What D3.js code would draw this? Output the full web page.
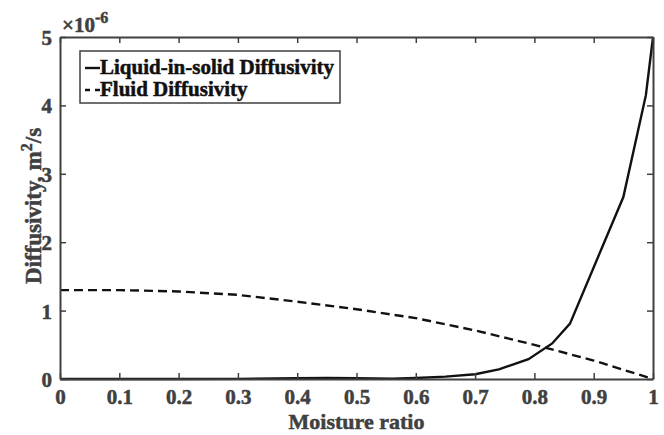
<!DOCTYPE html>
<html lang="en">
<head>
    <meta charset="UTF-8">
    <title>Diffusivity vs moisture ratio</title>
    <script src="https://d3js.org/d3.v7.min.js"></script>
    <style>
        body, html {
            margin: 0;
            background-color: #ffffff;
            overflow: hidden;
        }
        svg text {
            font-family: 'Liberation Serif', 'Times New Roman', serif;
            font-weight: 700;
            stroke-width: 0.5px;
        }
    </style>
</head>
<body>
<svg id="chart" width="664" height="435"></svg>

<script>
    // data (in units of 1e-6 m^2/s)
    const solidX = [0, 0.1, 0.2, 0.3, 0.4, 0.45, 0.5, 0.56, 0.6, 0.65, 0.7, 0.74, 0.79, 0.83, 0.86, 0.95, 0.988, 1];
    const solidY = [0, 0, 0, 0.002, 0.01, 0.015, 0.012, 0.005, 0.015, 0.035, 0.07, 0.14, 0.29, 0.52, 0.81, 2.66, 4.15, 5.0];
    const fluidX = [0, 0.1, 0.2, 0.3, 0.4, 0.5, 0.6, 0.7, 0.8, 0.9, 1];
    const fluidY = [1.30, 1.30, 1.28, 1.23, 1.13, 1.02, 0.89, 0.71, 0.50, 0.27, 0];
    const xTicks = [0, 0.1, 0.2, 0.3, 0.4, 0.5, 0.6, 0.7, 0.8, 0.9, 1];
    const yTicks = [0, 1, 2, 3, 4, 5];
    const seriesNames = ['Liquid-in-solid Diffusivity', 'Fluid Diffusivity'];

    const margin = {top: 37, right: 11, bottom: 56, left: 60};
    const width = 664 - margin.left - margin.right;
    const height = 435 - margin.top - margin.bottom;
    const axisColor = '#404040';

    const svg = d3.select('#chart');
    const g = svg.append('g').attr('transform', `translate(${margin.left},${margin.top})`);

    const x = d3.scaleLinear().domain([0, 1]).range([0, width]);
    const y = d3.scaleLinear().domain([0, 5]).range([height, 0]);

    // data lines
    const line = d3.line().x(d => x(d[0])).y(d => y(d[1]));

    g.append('path')
        .datum(d3.zip(fluidX, fluidY))
        .attr('d', line)
        .attr('fill', 'none')
        .attr('stroke', '#111')
        .attr('stroke-width', 2.4)
        .attr('stroke-dasharray', '9,5');

    g.append('path')
        .datum(d3.zip(solidX, solidY))
        .attr('d', line)
        .attr('fill', 'none')
        .attr('stroke', '#111')
        .attr('stroke-width', 2.4);

    // axes, ticks inward on all four sides
    const fmtX = d => d === 0 || d === 1 ? String(d) : d3.format('.1f')(d);
    const axB = g.append('g').attr('transform', `translate(0,${height})`)
        .call(d3.axisBottom(x).tickValues(xTicks).tickFormat(fmtX).tickSizeInner(-6).tickSizeOuter(0).tickPadding(10));
    const axT = g.append('g')
        .call(d3.axisTop(x).tickValues(xTicks).tickFormat('').tickSizeInner(-6).tickSizeOuter(0));
    const axL = g.append('g')
        .call(d3.axisLeft(y).tickValues(yTicks).tickFormat(d3.format('d')).tickSizeInner(-6).tickSizeOuter(0).tickPadding(8));
    const axR = g.append('g').attr('transform', `translate(${width},0)`)
        .call(d3.axisRight(y).tickValues(yTicks).tickFormat('').tickSizeInner(-6).tickSizeOuter(0));

    [axB, axT, axL, axR].forEach(a => {
        a.select('.domain').attr('stroke', axisColor).attr('stroke-width', 2);
        a.selectAll('.tick line').attr('stroke', axisColor).attr('stroke-width', 1.5);
        a.selectAll('.tick text').attr('fill', axisColor).attr('stroke', axisColor).style('font-size', '21px');
    });
    axL.selectAll('.tick text').attr('dy', '0.36em');

    // exponent label
    const expo = svg.append('text')
        .attr('x', margin.left + 2)
        .attr('y', 32)
        .attr('fill', axisColor)
        .attr('stroke', axisColor)
        .style('font-size', '21px');
    expo.append('tspan').text('\u00d710');
    expo.append('tspan').attr('dy', -9).style('font-size', '16px').text('-6');

    // axis labels
    svg.append('text')
        .attr('x', margin.left + width / 2)
        .attr('y', 429)
        .attr('text-anchor', 'middle')
        .attr('fill', axisColor)
        .attr('stroke', axisColor)
        .style('font-size', '22px')
        .text('Moisture ratio');

    const yl = svg.append('text')
        .attr('transform', `translate(41,${margin.top + height / 2 - 2}) rotate(-90)`)
        .attr('text-anchor', 'middle')
        .attr('fill', axisColor)
        .attr('stroke', axisColor)
        .style('font-size', '23px');
    yl.append('tspan').text('Diffusivity, m');
    yl.append('tspan').attr('dy', -9).style('font-size', '16px').text('2');
    yl.append('tspan').attr('dy', 9).text('/s');

    // legend
    const lg = g.append('g').attr('transform', 'translate(20,14)');
    lg.append('rect')
        .attr('width', 260).attr('height', 52)
        .attr('fill', '#fff')
        .attr('stroke', axisColor).attr('stroke-width', 1.5);
    seriesNames.forEach((name, i) => {
        const yy = 17 + i * 22;
        lg.append('line')
            .attr('x1', 5).attr('x2', 20).attr('y1', yy).attr('y2', yy)
            .attr('stroke', '#111').attr('stroke-width', 2.4)
            .attr('stroke-dasharray', i === 1 ? '5,5' : null);
        lg.append('text')
            .attr('x', 20).attr('y', yy + 6)
            .attr('fill', '#111')
            .attr('stroke', '#111')
            .style('font-size', '21px')
            .text(name);
    });
</script>
</body>
</html>
